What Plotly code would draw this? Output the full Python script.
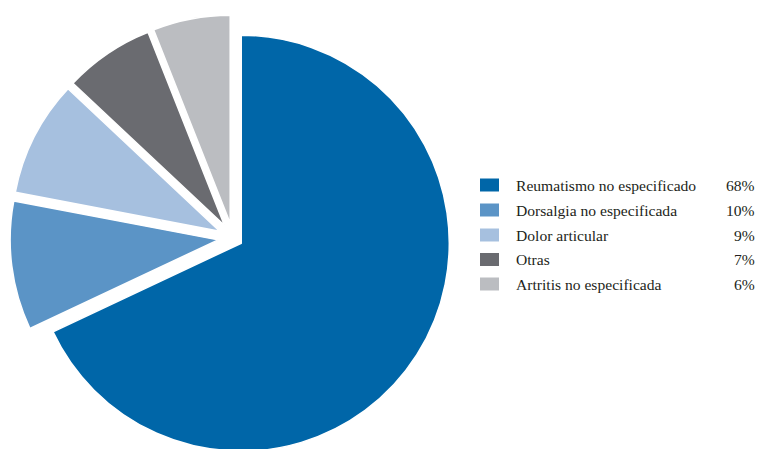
import plotly.graph_objects as go

# Diagnoses and their share of cases (%)
labels = [
    "Reumatismo no especificado",
    "Dorsalgia no especificada",
    "Dolor articular",
    "Otras",
    "Artritis no especificada",
]
values = [68, 10, 9, 7, 6]
pct_text = ["68%", "10%", "9%", "7%", "6%"]
colors = ["#0066A8", "#5B94C6", "#A6C0DF", "#6A6B70", "#BBBDC1"]
pulls = [0.047, 0.072, 0.072, 0.072, 0.072]

W, H = 760, 461

fig = go.Figure(
    go.Pie(
        labels=labels,
        values=values,
        sort=False,
        direction="clockwise",
        rotation=0,
        pull=pulls,
        marker=dict(colors=colors, line=dict(color="white", width=1.5)),
        textinfo="none",
        hoverinfo="label+percent",
        showlegend=False,
        domain=dict(x=[10 / W, 456 / W], y=[0, 446 / H]),
    )
)

# Hand-built legend: colour swatch, label, and right-aligned share
row_y = [185, 210, 235, 259.5, 284]
font = dict(family="Liberation Serif", size=15.6, color="#231F20")
for lab, pct, col, y in zip(labels, pct_text, colors, row_y):
    fig.add_shape(
        type="rect", xref="paper", yref="paper",
        x0=480 / W, x1=499 / W, y0=1 - (y + 6.5) / H, y1=1 - (y - 6.5) / H,
        fillcolor=col, line=dict(width=0),
    )
    fig.add_annotation(
        x=514 / W, y=1 - y / H, xref="paper", yref="paper",
        text=lab, showarrow=False, xanchor="left", yanchor="middle", font=font,
    )
    fig.add_annotation(
        x=757 / W, y=1 - y / H, xref="paper", yref="paper",
        text=pct, showarrow=False, xanchor="right", yanchor="middle", font=font,
    )

fig.update_layout(
    width=W, height=H,
    margin=dict(l=0, r=0, t=0, b=0),
    paper_bgcolor="white", plot_bgcolor="white",
)

fig.write_html(
    "out.html",
    post_script="document.documentElement.style.overflow='hidden';document.body.style.overflow='hidden';",
)
